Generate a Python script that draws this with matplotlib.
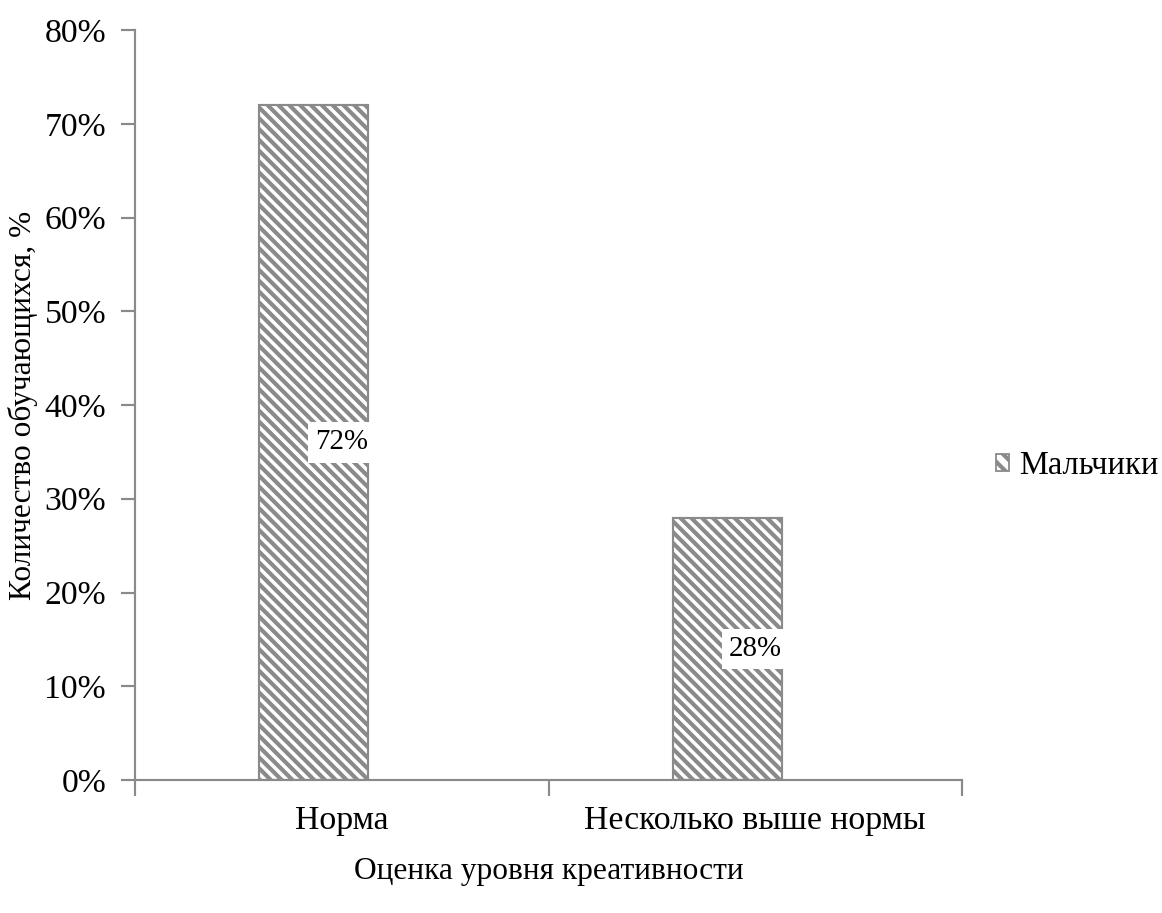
import matplotlib
matplotlib.use('Agg')
import matplotlib.pyplot as plt
from matplotlib.ticker import FuncFormatter, FixedLocator
from matplotlib.patches import Patch

categories = ['Норма', 'Несколько выше нормы']
boys = [72, 28]
series_name = 'Мальчики'

plt.rcParams['font.family'] = ['Liberation Serif', 'DejaVu Serif']
plt.rcParams['hatch.linewidth'] = 2.3
plt.rcParams['hatch.color'] = '#858585'

DPI = 130
fig = plt.figure(figsize=(1162 / DPI, 913 / DPI), dpi=DPI)
ax = fig.add_axes([135 / 1162, 1 - 780 / 913, 827 / 1162, 750 / 913])

grey = '#8a8a8a'
FS = 18.7
xs = [i - 0.068 for i in range(len(categories))]
bars = ax.bar(xs, boys, width=0.264, color='white', edgecolor=grey,
              hatch='\\' * 4, linewidth=1.2)

# data labels sit on the category centre (excel quirk), not on the bar
for i, v in enumerate(boys):
    ax.text(i, v / 2, f'{v}%', ha='center', va='center', fontsize=16,
            bbox=dict(facecolor='white', edgecolor='none', pad=4))

ax.set_xlim(-0.5, len(categories) - 0.5)
ax.set_ylim(0, 80)
ax.yaxis.set_major_locator(FixedLocator(range(0, 81, 10)))
ax.yaxis.set_major_formatter(FuncFormatter(lambda v, p: f'{v:.0f}%'))

ax.set_xticks(range(len(categories)))
ax.set_xticklabels(categories)
ax.set_xticks([-0.5, 0.5, 1.5], minor=True)
ax.tick_params(axis='x', which='major', length=0, pad=14, labelsize=FS)
ax.tick_params(axis='x', which='minor', length=9, width=1.2, color=grey)
ax.tick_params(axis='y', length=8, width=1.2, color=grey, labelsize=FS, pad=8)

for s in ['top', 'right']:
    ax.spines[s].set_visible(False)
for s in ['left', 'bottom']:
    ax.spines[s].set_color(grey)
    ax.spines[s].set_linewidth(1.2)

ax.set_ylabel('Количество обучающихся, %', fontsize=17.4)
ax.yaxis.set_label_coords((38 - 135) / 827, 0.5)
ax.set_xlabel('Оценка уровня креативности', fontsize=17.4, labelpad=12)

handle = Patch(facecolor='white', edgecolor=grey, hatch='\\' * 3, label=series_name)
fig.legend(handles=[handle], loc='center left', bbox_to_anchor=(996 / 1162, 1 - 466 / 913),
           frameon=False, fontsize=18, handlelength=0.4, handleheight=0.4,
           handletextpad=0.3, borderaxespad=0, borderpad=0)

fig.savefig('out.png', dpi=DPI)
